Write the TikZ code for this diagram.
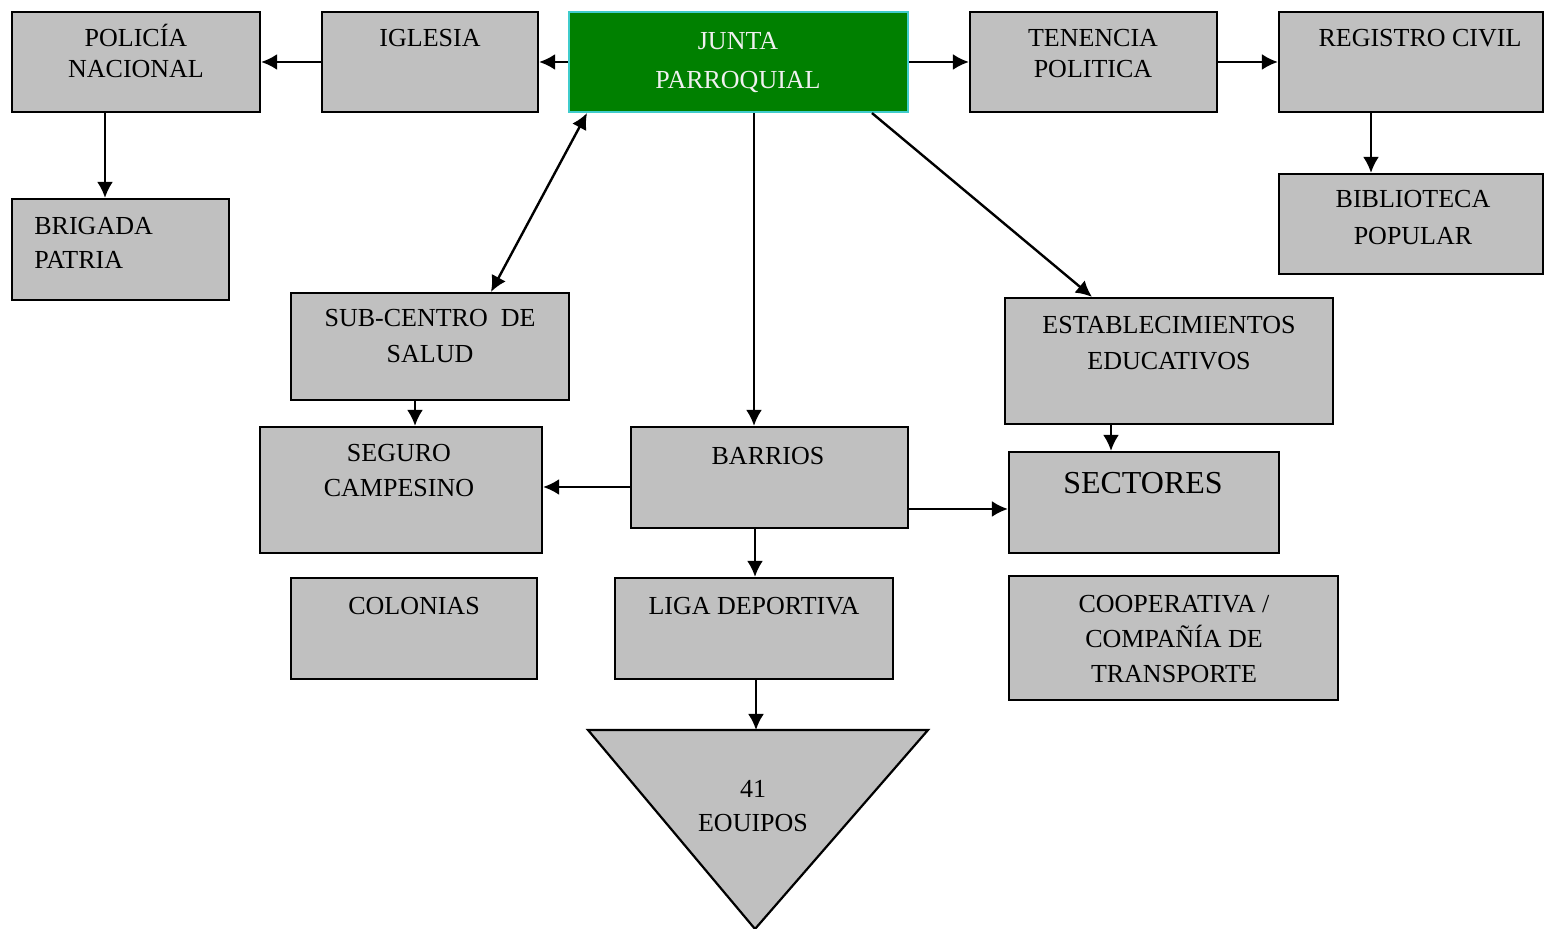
\documentclass[tikz,border=0pt]{standalone}
\usepackage{fontspec}
\setmainfont{Liberation Serif}
\usetikzlibrary{arrows.meta,fit}
\definecolor{boxgray}{HTML}{C0C0C0}
\definecolor{jgreen}{HTML}{008000}
\definecolor{jcyan}{HTML}{40CCCC}
\begin{document}
\begin{tikzpicture}[x=0.5pt,y=-0.5pt,
  box/.style={draw=black, line width=1.1pt, fill=boxgray, inner sep=0pt},
  jbox/.style={draw=jcyan, line width=1.1pt, fill=jgreen, inner sep=0pt},
  txt/.style={anchor=base, inner sep=0pt, font=\fontsize{13}{15}\selectfont},
  conn/.style={line width=1.2pt, -{Latex[length=8pt,width=8pt]}},
  dconn/.style={line width=1.2pt, {Latex[length=8pt,width=8pt]}-{Latex[length=8pt,width=8pt]}}]
\useasboundingbox (0,0) rectangle (1544,929);

% boxes
\node[box, fit={(12,12)(260,112)}] (pol) {};
\node[box, fit={(322,12)(538,112)}] (igl) {};
\node[jbox, fit={(569,12)(908,112)}] (junta) {};
\node[box, fit={(970,12)(1217,112)}] (ten) {};
\node[box, fit={(1279,12)(1543,112)}] (reg) {};
\node[box, fit={(1279,174)(1543,274)}] (bib) {};
\node[box, fit={(12,199)(229,300)}] (brig) {};
\node[box, fit={(291,293)(569,400)}] (sub) {};
\node[box, fit={(1005,298)(1333,424)}] (est) {};
\node[box, fit={(260,427)(542,553)}] (seg) {};
\node[box, fit={(631,427)(908,528)}] (bar) {};
\node[box, fit={(1009,452)(1279,553)}] (sec) {};
\node[box, fit={(291,578)(537,679)}] (col) {};
\node[box, fit={(615,578)(893,679)}] (liga) {};
\node[box, fit={(1009,576)(1338,700)}] (coop) {};
\draw[box] (588,730) -- (928,730) -- (755,929) -- cycle;
\coordinate (tritop) at (756,730);

% texts
\node[txt] (polA) at (136,47) {POLICÍA};
\node[txt] (polB) at (136,78) {NACIONAL};
\node[txt] (iglA) at (430,47) {IGLESIA};
\node[txt, text=white!94!black] (juntaA) at (738,50) {JUNTA};
\node[txt, text=white!94!black] (juntaB) at (738,89) {PARROQUIAL};
\node[txt] (tenA) at (1093,47) {TENENCIA};
\node[txt] (tenB) at (1093,78) {POLITICA};
\node[txt] (regA) at (1420,47) {REGISTRO CIVIL};
\node[txt] (bibA) at (1413,208) {BIBLIOTECA};
\node[txt] (bibB) at (1413,245) {POPULAR};
\node[txt, anchor=base west] (brigA) at (34,235) {BRIGADA};
\node[txt, anchor=base west] (brigB) at (34,269) {PATRIA};
\node[txt] (subA) at (430,327) {SUB-CENTRO\ \ DE};
\node[txt] (subB) at (430,363) {SALUD};
\node[txt] (estA) at (1169,334) {ESTABLECIMIENTOS};
\node[txt] (estB) at (1169,370) {EDUCATIVOS};
\node[txt] (segA) at (399,462) {SEGURO};
\node[txt] (segB) at (399,497) {CAMPESINO};
\node[txt] (barA) at (768,465) {BARRIOS};
\node[txt, font=\fontsize{16}{19}\selectfont] (secA) at (1143,494) {SECTORES};
\node[txt] (colA) at (414,615) {COLONIAS};
\node[txt] (ligaA) at (754,615) {LIGA DEPORTIVA};
\node[txt] (coopA) at (1174,613) {COOPERATIVA /};
\node[txt] (coopB) at (1174,648) {COMPAÑÍA DE};
\node[txt] (coopC) at (1174,683) {TRANSPORTE};
\node[txt] (triA) at (753,798) {41};
\node[txt] (triB) at (753,832) {EOUIPOS};

% connectors
\draw[conn] (igl.west) -- (pol.east);
\draw[conn] (junta.west) -- (igl.east);
\draw[conn] (junta.east) -- (ten.west);
\draw[conn] (ten.east) -- (reg.west);
\draw[conn] ([xshift=-15.5pt]pol.south) -- ([xshift=-15.5pt]pol.south |- brig.north);
\draw[conn] ([xshift=-20pt]reg.south) -- ([xshift=-20pt]reg.south |- bib.north);
\draw[dconn] ([xshift=-75.75pt]junta.south) -- ([xshift=30.5pt]sub.north);
\draw[conn] ([xshift=7.75pt]junta.south) -- ([xshift=7.75pt]junta.south |- bar.north);
\draw[conn] ([xshift=66.75pt]junta.south) -- ([xshift=-38.5pt]est.north);
\draw[conn] ([xshift=-7.5pt]sub.south) -- ([xshift=-7.5pt]sub.south |- seg.north);
\draw[conn] ([xshift=-29pt]est.south) -- ([xshift=-29pt]est.south |- sec.north);
\draw[conn] ([yshift=-4.75pt]bar.west) -- ([yshift=-4.75pt]bar.west -| seg.east);
\draw[conn] ([yshift=-15.75pt]bar.east) -- ([yshift=-15.75pt]bar.east -| sec.west);
\draw[conn] ([xshift=-7.25pt]bar.south) -- ([xshift=-7.25pt]bar.south |- liga.north);
\draw[conn] (liga.south -| tritop) -- (tritop);
\end{tikzpicture}
\end{document}
